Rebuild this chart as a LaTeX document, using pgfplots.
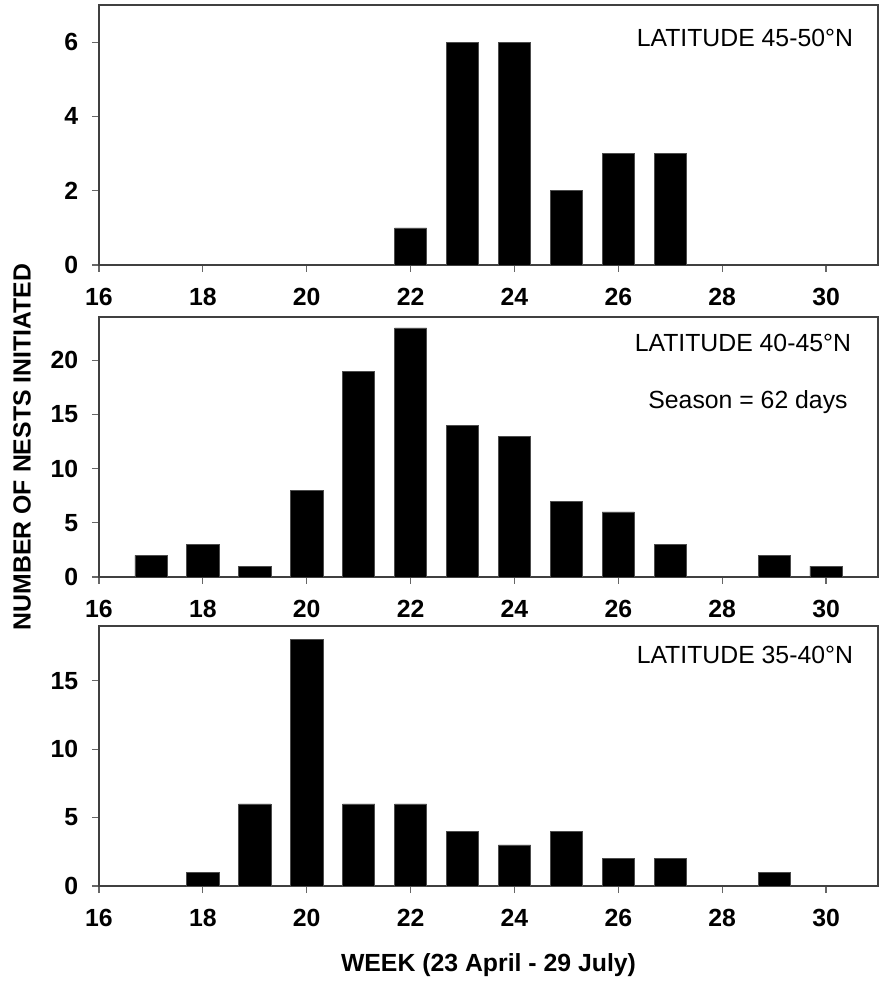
\documentclass[border=0pt]{standalone}
\usepackage{fontspec}
\setmainfont{Liberation Sans}
\usepackage{pgfplots}
\pgfplotsset{compat=1.18}
\newcommand{\tf}{\fontsize{12.4pt}{14pt}\selectfont}

\pgfplotsset{
  panel/.style={
    width=389.5pt, height=130pt, scale only axis,
    xmin=16, xmax=31, xtick={16,18,...,30},
    ymin=0,
    ybar, bar width=0.62,
    tick align=outside, major tick length=3.5pt,
    xtick pos=left, ytick pos=left,
    axis line style={black!75, line width=0.6pt},
    tick style={black!60, line width=0.6pt},
    /pgf/number format/assume math mode=true,
    tick label style={font=\tf\bfseries},
    xticklabel style={yshift=-4.4pt},
    yticklabel style={xshift=-3.4pt},
  },
  bars/.style={fill=black, draw=black!70, line width=0.3pt},
}

\begin{document}
\begin{tikzpicture}
\begin{axis}[panel, name=top, at={(0,0)}, anchor=north west,
  ymax=7, ytick={0,2,4,6}]
\addplot[bars] coordinates {(22,1) (23,6) (24,6) (25,2) (26,3) (27,3)};
\node[anchor=east, font=\tf, xshift=-9pt, yshift=-16.5pt] at (rel axis cs:1,1) {LATITUDE 45-50°N};
\end{axis}

\begin{axis}[panel, name=mid, at={(0,-156pt)}, anchor=north west,
  ymax=24, ytick={0,5,10,15,20},
  ylabel={NUMBER OF NESTS INITIATED},
  ylabel style={font=\tf\bfseries, at={(rel axis cs:0,0.5)}, anchor=center, yshift=38.5pt}]
\addplot[bars] coordinates {(17,2) (18,3) (19,1) (20,8) (21,19) (22,23) (23,14) (24,13) (25,7) (26,6) (27,3) (29,2) (30,1)};
\node[anchor=east, font=\tf, xshift=-10pt, yshift=-13pt] at (rel axis cs:1,1) {LATITUDE 40-45°N};
\node[anchor=center, font=\tf, xshift=-65pt, yshift=-42.5pt] at (rel axis cs:1,1) {Season = 62 days};
\end{axis}

\begin{axis}[panel, name=bot, at={(0,-310.5pt)}, anchor=north west,
  ymax=19, ytick={0,5,10,15},
  xlabel={WEEK (23 April - 29 July)},
  xlabel style={font=\tf\bfseries, at={(rel axis cs:0.5,0)}, anchor=center, yshift=-39.5pt}]
\addplot[bars] coordinates {(18,1) (19,6) (20,18) (21,6) (22,6) (23,4) (24,3) (25,4) (26,2) (27,2) (29,1)};
\node[anchor=east, font=\tf, xshift=-9pt, yshift=-14.5pt] at (rel axis cs:1,1) {LATITUDE 35-40°N};
\end{axis}

\pgfresetboundingbox
\path ([xshift=-49.5pt, yshift=2.5pt]top.north west) rectangle ++(441pt,-491.5pt);
\end{tikzpicture}
\end{document}
